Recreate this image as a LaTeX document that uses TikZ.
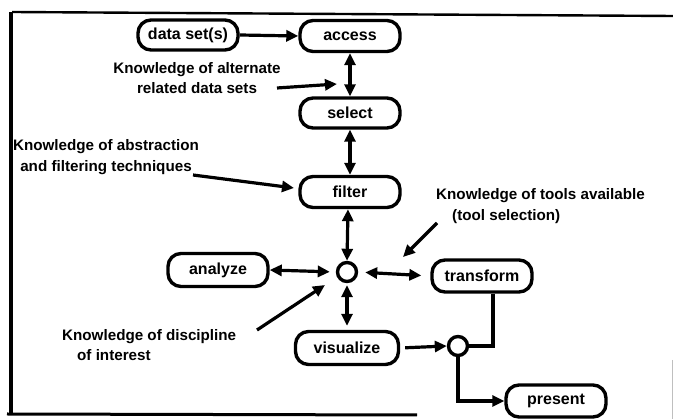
\documentclass[tikz,border=0pt]{standalone}
\usepackage{fontspec}
\setmainfont{Liberation Sans}
\usetikzlibrary{arrows.meta,calc}
\begin{document}
\begin{tikzpicture}[x=1pt,y=-1pt,
  box/.style={draw,line width=3.4pt,rounded corners=13pt,minimum width=100pt,minimum height=31pt,inner sep=0pt,font=\fontsize{16}{18}\selectfont\bfseries},
  junc/.style={draw,circle,line width=3.4pt,minimum size=19pt,inner sep=0pt},
  lab/.style={font=\fontsize{15.2}{20.5}\selectfont\bfseries,inner sep=0pt},
  conn/.style={line width=3.2pt,-{Triangle[length=12pt,width=11pt]}},
  dconn/.style={line width=3.2pt,{Triangle[length=12pt,width=11pt]}-{Triangle[length=12pt,width=11pt]}},
  plain/.style={line width=3.2pt}]
\useasboundingbox (0,0) rectangle (673,419);
% frame
\draw[line width=2.4pt] (12,12) -- (673,16);
\draw[line width=3.2pt] (11,12) -- (11,414);
\draw[line width=3pt] (7,414) -- (417,415);
\draw[line width=0.6pt,gray!50] (672,360) -- (672,419);
% nodes
\node[box,minimum height=30pt] (ds) at (188,35) {data set(s)};
\node[box] (access) at (350,36) {access};
\node[box,minimum height=30pt] (select) at (350,113) {select};
\node[box] (filter) at (350,192) {filter};
\node[box,minimum height=33pt] (analyze) at (218,270) {analyze};
\node[junc] (j1) at (347,272) {};
\node[box,minimum height=32pt] (transform) at (482,276) {transform};
\node[box,minimum height=33pt,minimum width=103pt] (visualize) at (347,348) {visualize};
\node[junc] (j2) at (458,346) {};
\node[box,minimum height=32pt] (present) at (556,401) {present};
% labels
\node[lab,align=center] (lalt) at (197,78) {Knowledge of alternate\\related data sets};
\node[lab,align=center] (labs) at (106,157) {Knowledge of abstraction\\and filtering techniques};
\node[lab,align=left,anchor=west] (ltool) at (436,206) {Knowledge of tools available\\\hspace*{16pt}(tool selection)};
\node[lab,align=left,anchor=west] (ldisc) at (62,345) {Knowledge of discipline\\\hspace*{15pt}of interest};
% coordinates for label arrows
\coordinate (a1s) at (277,88);
\coordinate (a1e) at (337,84);
\coordinate (a2s) at (193,175);
\coordinate (a2e) at (294,188);
\coordinate (a3s) at (437,223);
\coordinate (a3e) at (403,257);
\coordinate (a4s) at (257,330);
\coordinate (a4e) at (325,285);
% connectors
\draw[conn] (ds.east) -- (access.west);
\draw[dconn] (access.south) -- (select.north);
\draw[dconn] (select.south) -- (filter.north);
\draw[dconn] ([xshift=-2pt]filter.south) -- (j1.north);
\draw[dconn,shorten >=6pt] (analyze.east) -- (j1.west);
\draw[dconn,shorten <=7pt,shorten >=9pt] (j1.east) -- (transform.west);
\draw[dconn,shorten <=2pt,shorten >=4pt] (j1.south) -- (visualize.north);
\draw[conn,shorten <=5pt] (visualize.east) -- (j2.west);
\draw[plain] ([xshift=11pt]transform.south) |- (j2.east);
\draw[conn] (j2.south) |- (present.west);
\draw[conn] (a1s) -- (a1e);
\draw[conn] (a2s) -- (a2e);
\draw[conn] (a3s) -- (a3e);
\draw[conn] (a4s) -- (a4e);
\end{tikzpicture}
\end{document}
